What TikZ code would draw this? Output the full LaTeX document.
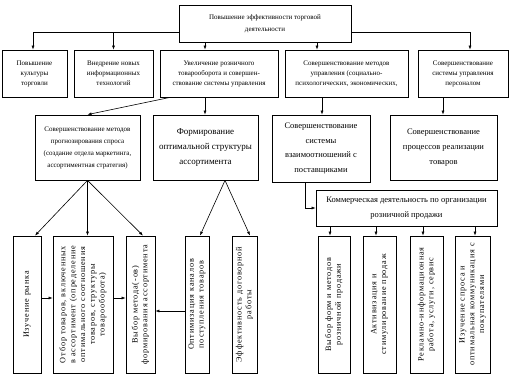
\documentclass[tikz,border=0pt]{standalone}
\usepackage{fontspec}
\setmainfont{Liberation Serif}
\newfontfamily\widefnt[LetterSpace=10]{Liberation Serif}
\usetikzlibrary{arrows.meta}
\begin{document}
\begin{tikzpicture}[x=1pt,y=-1pt,
  box/.style={draw, line width=0.8pt, inner sep=1pt, align=center},
  arr/.style={-{Latex[length=4pt,width=3pt]}, line width=0.6pt},
  ln/.style={line width=0.6pt},
  vt/.style={rotate=90, align=center, inner sep=0pt, font=\widefnt\fontsize{8.2}{9.8}\selectfont},
  fa/.style={font=\fontsize{7}{10}\selectfont},
  fb/.style={font=\fontsize{9}{15}\selectfont},
  fc/.style={font=\fontsize{8.5}{14.5}\selectfont}]
\useasboundingbox (0,0) rectangle (513,386);

% top
\node[box, minimum width=172pt, minimum height=37pt, font=\fontsize{7}{11.5}\selectfont] (top) at (265,23.5) {Повышение эффективности торговой\\деятельности};

% row 2
\node[box, fa, minimum width=65pt, minimum height=47pt] (b1) at (34.5,73.5) {Повышение\\культуры\\торговли};
\node[box, fa, minimum width=79pt, minimum height=47pt] (b2) at (113.5,73.5) {Внедрение новых\\информационных\\технологий};
\node[box, fa, minimum width=118pt, minimum height=47pt] (b3) at (219,73.5) {Увеличение розничного\\товарооборота и совершен-\\ствование системы управления};
\node[box, fa, minimum width=123pt, minimum height=47pt] (b4) at (346.5,73.5) {Совершенствование методов\\управления (социально-\\психологических, экономических,};
\node[box, fa, minimum width=90pt, minimum height=47pt] (b5) at (463,73.5) {Совершенствование\\системы управления\\персоналом};

\draw[ln] (top.west |- 0,32) -- (33,32);
\draw[arr] (33,32) -- (b1.north -| 33,0);
\draw[arr] (113.5,32) -- (b2.north);
\draw[arr] (top.south -| 205,0) -- (b3.north -| 205,0);
\draw[arr] (top.south -| 317,0) -- (b4.north -| 317,0);
\draw[arr] (top.east |- 0,32) -| (b5.north -| 470,0);

% row 3
\node[box, font=\fontsize{7}{12}\selectfont, minimum width=105pt, minimum height=65pt] (A) at (87.5,147.5) {Совершенствование методов\\прогнозирования спроса\\(создание отдела маркетинга,\\ассортиментная стратегия)};
\node[box, fb, minimum width=105pt, minimum height=65pt] (B) at (205.5,147.5) {Формирование\\оптимальной структуры\\ассортимента};
\node[box, fc, minimum width=98pt, minimum height=67pt] (C) at (321,148.5) {Совершенствование\\системы\\взаимоотношений с\\поставщиками};
\node[box, font=\fontsize{8.5}{15}\selectfont, minimum width=107pt, minimum height=65pt] (D) at (443.5,147.5) {Совершенствование\\процессов реализации\\товаров};

\draw[arr] (b3.south -| 170,0) -- (A.north);
\draw[arr] (b3.south -| 205,0) -- (B.north -| 205,0);
\draw[arr] (b4.south -| 322,0) -- (C.north -| 322,0);
\draw[arr] (b5.south -| 443,0) -- (D.north -| 443,0);

% commercial box
\node[box, font=\fontsize{8.5}{15}\selectfont, minimum width=181pt, minimum height=36pt] (E) at (406.5,208) {Коммерческая деятельность по организации\\розничной продажи};
\draw[arr] (C.south -| 305,0) |- (E.west);

% bottom-left boxes
\node[box, minimum width=28pt, minimum height=137pt] (r1) at (27,304.5) {};
\node[box, minimum width=60pt, minimum height=137pt] (r2) at (83,304.5) {};
\node[box, minimum width=29pt, minimum height=137pt] (r3) at (140.5,304.5) {};
\node[box, minimum width=24pt, minimum height=137pt] (r4) at (197,304.5) {};
\node[box, minimum width=25pt, minimum height=137pt] (r5) at (244.5,304.5) {};
\node[vt] (r1t) at (r1) {Изучение рынка};
\node[vt] (r2t) at (r2) {Отбор товаров, включенных\\в ассортимент (определение\\оптимального соотношения\\товаров, структуры\\товарооборота)};
\node[vt] (r3t) at (r3) {Выбор метода(-ов)\\формирования ассортимента};
\node[vt] (r4t) at (r4) {Оптимизация каналов\\поступления товаров};
\node[vt] (r5t) at (r5) {Эффективность договорной\\работы};

\draw[arr] (A.south) -- (r1.north -| 35,0);
\draw[arr] (A.south) -- (r2.north -| A.south);
\draw[arr] (A.south) -- (r3.north -| 143,0);
\draw[arr] (B.south -| 225,0) -- (r4.north -| 200,0);
\draw[arr] (B.south -| 225,0) -- (r5.north -| 250,0);
\draw[arr] (r1.east |- 0,298) -- (r2.west |- 0,298);
\draw[arr] (r2.east |- 0,298) -- (r3.west |- 0,298);
\draw[arr] (r4.west |- 0,311) -- (r3.east |- 0,311);

% bottom-right boxes
\node[box, minimum width=32pt, minimum height=137pt] (s1) at (334,304.5) {};
\node[box, minimum width=33pt, minimum height=137pt] (s2) at (379.5,304.5) {};
\node[box, minimum width=33pt, minimum height=137pt] (s3) at (426.5,304.5) {};
\node[box, minimum width=35pt, minimum height=137pt] (s4) at (472.5,304.5) {};
\node[vt] (s1t) at (s1) {Выбор форм и методов\\розничной продажи};
\node[vt] (s2t) at (s2) {Активизация и\\стимулирование продаж};
\node[vt] (s3t) at (s3) {Рекламно-информационная\\работа, услуги, сервис};
\node[vt] (s4t) at (s4) {Изучение спроса и\\оптимальная коммуникация с\\покупателями};

\draw[arr] (E.south -| 330,0) -- (s1.north -| 330,0);
\draw[arr] (E.south -| 376,0) -- (s2.north -| 376,0);
\draw[arr] (E.south -| 423,0) -- (s3.north -| 423,0);
\draw[arr] (E.south -| 475,0) -- (s4.north -| 475,0);
\end{tikzpicture}
\end{document}
